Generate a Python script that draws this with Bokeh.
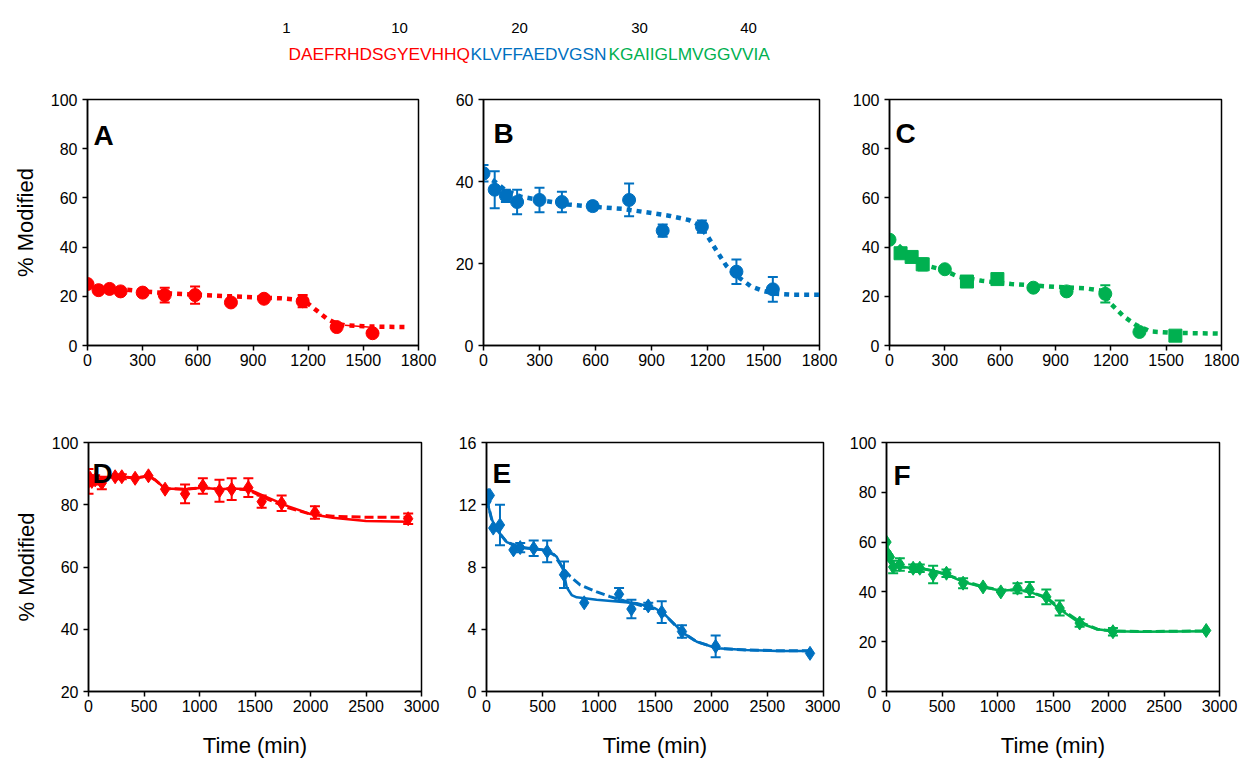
from bokeh.plotting import figure
from bokeh.layouts import column, row
from bokeh.models import Range1d, FixedTicker, Label, Whisker, ColumnDataSource, TeeHead
from bokeh.core.properties import value
from bokeh.embed import file_html
from bokeh.resources import INLINE

RED = "#FF0000"
BLUE = "#0070C0"
GREEN = "#00B050"
FONT = "Liberation Sans"

# ---------------- data ----------------
seq_red = "DAEFRHDSGYEVHHQ"
seq_blue = "KLVFFAEDVGSN"
seq_green = "KGAIIGLMVGGVVIA"
residue_numbers = ["1", "10", "20", "30", "40"]

t_top = [0, 60, 120, 180, 300, 420, 585, 780, 960, 1170, 1355, 1550]
A_y = [25, 22.5, 23, 22, 21.5, 20.5, 20.5, 17.5, 19, 18, 7.5, 5]
A_err = [0, 0, 1, 0, 0, 3, 3.5, 0, 0, 2.5, 0, 0]
A_fit_x = [0, 150, 300, 450, 600, 750, 900, 1050, 1150, 1200, 1250, 1300, 1350, 1400, 1500, 1600, 1750]
A_fit_y = [24.5, 23.2, 22, 21.2, 20.6, 20.1, 19.6, 19.2, 18.6, 17, 14, 11, 9, 8.2, 7.8, 7.6, 7.5]
A_solid_x = [1400, 1560]
A_solid_y = [8.2, 7.3]

B_y = [42, 38, 36.5, 35, 35.5, 35, 34, 35.5, 28, 29, 18, 13.7]
B_err = [2, 4.5, 1.5, 3, 3, 2.5, 1, 4, 1.5, 1.5, 3, 3]
B_fit_x = [0, 60, 120, 200, 300, 450, 600, 750, 900, 1000, 1100, 1150, 1200, 1250, 1300, 1350, 1430, 1500, 1570, 1650, 1800]
B_fit_y = [41.5, 40, 37.8, 36.3, 35.5, 34.4, 33.8, 33.3, 32.3, 31.6, 30.6, 29.5, 26.7, 23, 19.5, 17.2, 14.5, 13.3, 12.6, 12.4, 12.4]

C_y = [43, 37.5, 36, 33, 31, 26, 27, 23.5, 22, 21, 5.5, 4]
C_err = [1, 1.5, 2, 2.5, 1, 2, 2, 1, 1, 3.5, 0, 1]
C_marker = ["circle", "square", "square", "square", "circle", "square", "square",
            "circle", "circle", "circle", "circle", "square"]
C_fit_x = [0, 45, 100, 200, 300, 370, 500, 660, 800, 900, 1055, 1150, 1200, 1272, 1335, 1417, 1550, 1670, 1800]
C_fit_y = [42.5, 41, 37, 32.5, 30.5, 28, 26.3, 25, 24.3, 23.8, 23.3, 22.3, 17, 11.7, 8.4, 5.7, 5.1, 5, 4.8]

t_bot = [0, 15, 30, 60, 120, 240, 300, 420, 540, 690, 870, 1030, 1180, 1290, 1440, 1560, 1740, 2040, 2880]
D_y = [87.5, 88.5, 87.5, 88, 87, 89, 89, 88.5, 89.3, 85, 83.5, 86, 84.5, 85, 85.5, 81, 80.5, 77.5, 75.5]
D_err = [4, 0, 0, 1.5, 2, 0, 0.8, 0, 0, 0, 3, 2.5, 3.5, 3.5, 3, 2, 2.5, 2, 1.7]
D_fit_x = [0, 60, 120, 240, 300, 420, 540, 600, 690, 870, 1030, 1180, 1290, 1440, 1600, 1800, 2000, 2200, 2500, 2880]
D_solid_y = [87.5, 88, 88.5, 89, 89, 88.6, 89.2, 88, 85.2, 85, 85.5, 85, 85.2, 85, 82.5, 79.5, 77, 75.8, 74.8, 74.5]
D_dash_y = [87.5, 88, 88.5, 89, 89, 88.6, 89.2, 88, 85.2, 85, 85.5, 85, 85.2, 84.8, 82, 79, 77, 76.3, 76, 76]

t_E = [0, 15, 30, 60, 120, 240, 300, 420, 540, 690, 870, 1180, 1290, 1440, 1560, 1740, 2040, 2880]
E_y = [12.2, 12.6, 12.6, 10.5, 10.7, 9.1, 9.25, 9.2, 9.0, 7.5, 5.7, 6.25, 5.3, 5.5, 5.1, 3.85, 2.9, 2.45]
E_err = [0, 0, 0, 0, 1.3, 0, 0.3, 0.5, 0.7, 0.85, 0, 0.4, 0.6, 0.2, 0.7, 0.4, 0.7, 0]
E_solid_x = [0, 45, 90, 180, 300, 510, 600, 625, 684, 714, 758, 803, 980, 1338, 1500, 1575, 1753, 1872, 2050, 2317, 2600, 2880]
E_solid_y = [12.4, 11.1, 10.4, 9.6, 9.26, 9.1, 8.8, 8.66, 7.8, 6.7, 6.2, 6.05, 5.9, 5.67, 5.35, 5.03, 3.75, 3.2, 2.78, 2.67, 2.6, 2.6]
E_dash_x = [0, 45, 90, 180, 300, 510, 600, 684, 744, 833, 982, 1100, 1189, 1338, 1500, 1575, 1753, 1872, 2050, 2317, 2600, 2880]
E_dash_y = [12.4, 11.1, 10.4, 9.6, 9.26, 9.1, 8.8, 7.9, 7.4, 6.85, 6.4, 6.1, 5.9, 5.6, 5.3, 5.0, 3.75, 3.2, 2.78, 2.67, 2.62, 2.62]

F_y = [60, 55, 54, 50, 51, 49.5, 49.5, 47, 47.5, 43.5, 42, 40, 41.5, 41, 38, 33.5, 27.5, 24, 24.5]
F_err = [0, 0, 0, 2.5, 2.5, 1.5, 1.5, 3.5, 1.5, 2, 0, 0, 2, 3, 3, 3, 1.5, 1.5, 0]
F_fit_x = [0, 15, 30, 60, 120, 300, 420, 540, 690, 870, 1030, 1180, 1290, 1440, 1560, 1740, 1900, 2040, 2300, 2880]
F_solid_y = [60, 55, 52, 50, 50, 49.5, 48.5, 47, 44, 42, 40.5, 41, 40, 37.5, 33, 27.5, 25, 24.2, 24, 24.2]
F_dash_y = [59, 55, 52.5, 50.5, 50, 49.5, 48.5, 47, 44.5, 42, 40.8, 40.8, 40, 37.8, 33.5, 28, 25, 24.3, 24.1, 24.3]

top_xticks = [0, 300, 600, 900, 1200, 1500, 1800]
bot_xticks = [0, 500, 1000, 1500, 2000, 2500, 3000]


# ---------------- helpers ----------------
def make_panel(letter, xr, yr, xticks, yticks, fw, fh, bl, br, bt, bb,
               ylabel=None, xlabel=None, letter_dx=6, letter_dy=35):
    p = figure(frame_width=fw, frame_height=fh, x_range=Range1d(*xr), y_range=Range1d(*yr),
               toolbar_location=None, output_backend="svg", title=None,
               min_border_left=bl, min_border_right=br, min_border_top=bt, min_border_bottom=bb)
    p.xgrid.grid_line_color = None
    p.ygrid.grid_line_color = None
    p.outline_line_color = "black"
    p.outline_line_width = 1.5
    p.background_fill_color = "white"
    p.border_fill_color = "white"
    p.xaxis.ticker = FixedTicker(ticks=xticks)
    p.yaxis.ticker = FixedTicker(ticks=yticks)
    for ax in (p.xaxis[0], p.yaxis[0]):
        ax.axis_line_color = "black"
        ax.axis_line_width = 1.5
        ax.major_tick_line_color = "black"
        ax.major_tick_line_width = 1.5
        ax.major_tick_in = 0
        ax.major_tick_out = 5
        ax.minor_tick_line_color = None
        ax.major_label_text_font = FONT
        ax.major_label_text_font_size = "16px"
        ax.major_label_text_color = "black"
        ax.axis_label_text_font = FONT
        ax.axis_label_text_font_size = "22px"
        ax.axis_label_text_font_style = "normal"
        ax.axis_label_text_color = "black"
    p.xaxis.major_label_standoff = 3
    p.yaxis.major_label_standoff = 5
    if ylabel:
        p.yaxis.axis_label = ylabel
        p.yaxis.axis_label_standoff = 10
    if xlabel:
        p.xaxis.axis_label = xlabel
        p.xaxis.axis_label_standoff = 18
    lx = xr[0] + letter_dx * (xr[1] - xr[0]) / fw
    ly = yr[1] - letter_dy * (yr[1] - yr[0]) / fh
    p.add_layout(Label(x=lx, y=ly, text=letter, text_font=FONT, text_font_size="28px",
                       text_font_style="bold", text_color="black", text_baseline="alphabetic"))
    return p


def add_errors(p, xs, ys, errs, color, head=10):
    bx = [x for x, e in zip(xs, errs) if e > 0]
    up = [y + e for y, e in zip(ys, errs) if e > 0]
    lo = [y - e for y, e in zip(ys, errs) if e > 0]
    if not bx:
        return
    src = ColumnDataSource(dict(x=bx, upper=up, lower=lo))
    p.add_layout(Whisker(source=src, base="x", upper="upper", lower="lower",
                         line_color=color, line_width=2,
                         upper_head=TeeHead(size=head, line_color=color, line_width=2),
                         lower_head=TeeHead(size=head, line_color=color, line_width=2)))


# ---------------- header ----------------
hdr = figure(width=1244, height=70, x_range=Range1d(0, 1244), y_range=Range1d(70, 0),
             toolbar_location=None, output_backend="svg", title=None,
             x_axis_location=None, y_axis_location=None, min_border=0)
hdr.grid.visible = False
hdr.outline_line_color = None
seg_left = [288, 470, 608]
for txt, col, x0 in zip([seq_red, seq_blue, seq_green], [RED, BLUE, GREEN], seg_left):
    hdr.text(x=[x0], y=[53], text=[txt], text_font=value(FONT), text_font_size="17.3px",
             text_color=col, text_align="left", text_baseline="alphabetic")
num_x = [286, 399, 519, 639, 748]
hdr.text(x=num_x, y=[27] * len(num_x), text=residue_numbers, text_font=value(FONT),
         text_font_size="15px", text_color="black", text_align="center", text_baseline="alphabetic")

# ---------------- top row ----------------
FH1 = 246
pA = make_panel("A", (0, 1800), (0, 100), top_xticks, [0, 20, 40, 60, 80, 100], 331, FH1, 87, 22, 29, 40,
                ylabel="% Modified", letter_dx=6, letter_dy=36)
pA.line(A_fit_x, A_fit_y, line_color=RED, line_width=4.5, line_dash="5 5")
pA.line(A_solid_x, A_solid_y, line_color=RED, line_width=1.5)
pA.scatter(t_top, A_y, marker="circle", size=13, color=RED)
add_errors(pA, t_top, A_y, A_err, RED)

pB = make_panel("B", (0, 1800), (0, 60), top_xticks, [0, 20, 40, 60], 336, FH1, 43, 21, 29, 40,
                letter_dx=10, letter_dy=34)
pB.line(B_fit_x, B_fit_y, line_color=BLUE, line_width=4.5, line_dash="5 5")
pB.scatter(t_top, B_y, marker="circle", size=13, color=BLUE)
add_errors(pB, t_top, B_y, B_err, BLUE)

pC = make_panel("C", (0, 1800), (0, 100), top_xticks, [0, 20, 40, 60, 80, 100], 332, FH1, 49, 23, 29, 40,
                letter_dx=6, letter_dy=34)
pC.line(C_fit_x, C_fit_y, line_color=GREEN, line_width=4.5, line_dash="5 5")
srcC = ColumnDataSource(dict(x=t_top, y=C_y, m=C_marker))
pC.scatter("x", "y", marker="m", size=13, color=GREEN, source=srcC)
add_errors(pC, t_top, C_y, C_err, GREEN)

# ---------------- bottom row ----------------
FH2 = 249
pD = make_panel("D", (0, 3000), (20, 100), bot_xticks, [20, 40, 60, 80, 100], 333, FH2, 88, 22, 57, 70,
                ylabel="% Modified", xlabel="Time (min)", letter_dx=4, letter_dy=31)
pD.line(D_fit_x, D_dash_y, line_color=RED, line_width=3, line_dash="9 4")
pD.line(D_fit_x, D_solid_y, line_color=RED, line_width=2.5)
pD.scatter(t_bot, D_y, marker="diamond", size=14, color=RED)
add_errors(pD, t_bot, D_y, D_err, RED)

pE = make_panel("E", (0, 3000), (0, 16), bot_xticks, [0, 4, 8, 12, 16], 337, FH2, 43, 17, 57, 70,
                xlabel="Time (min)", letter_dx=6, letter_dy=31)
pE.line(E_dash_x, E_dash_y, line_color=BLUE, line_width=3, line_dash="9 4")
pE.line(E_solid_x, E_solid_y, line_color=BLUE, line_width=2.5)
pE.scatter(t_E, E_y, marker="diamond", size=14, color=BLUE)
add_errors(pE, t_E, E_y, E_err, BLUE)

pF = make_panel("F", (0, 3000), (0, 100), bot_xticks, [0, 20, 40, 60, 80, 100], 333, FH2, 46, 25, 57, 70,
                xlabel="Time (min)", letter_dx=7, letter_dy=33)
pF.line(F_fit_x, F_dash_y, line_color=GREEN, line_width=3, line_dash="9 4")
pF.line(F_fit_x, F_solid_y, line_color=GREEN, line_width=2.5)
pF.scatter(t_bot, F_y, marker="diamond", size=14, color=GREEN)
add_errors(pF, t_bot, F_y, F_err, GREEN)

layout = column(hdr, row(pA, pB, pC), row(pD, pE, pF))
open("out.html", "w").write(file_html(layout, INLINE))
